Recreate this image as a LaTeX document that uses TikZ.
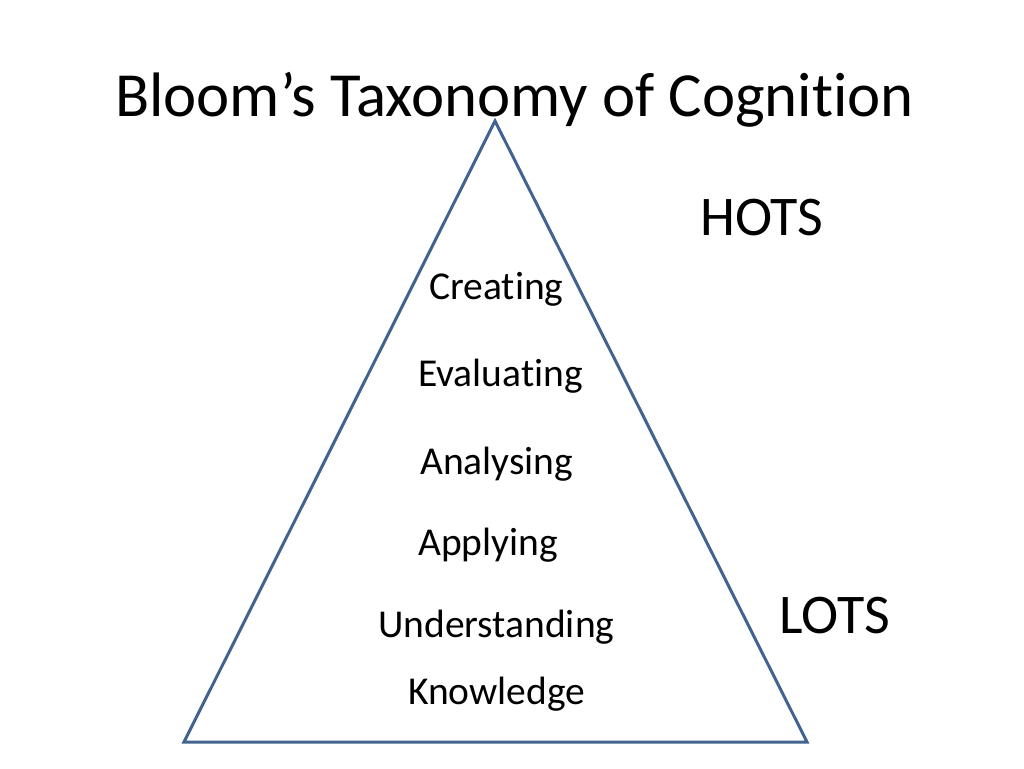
\documentclass[tikz,border=0pt]{standalone}
\usepackage{fontspec}
\setmainfont[RawFeature=-liga]{Carlito}
\definecolor{pyramidblue}{HTML}{41638F}
\begin{document}
\begin{tikzpicture}[
x=1pt,y=-1pt,
every node/.style={inner sep=0pt,anchor=base west},
level/.style={font=\fontsize{39.5}{48}\selectfont},
band/.style={font=\fontsize{56}{66}\selectfont},
]
\useasboundingbox (0,0) rectangle (1024,768);
\node[font=\fontsize{62.8}{75}\selectfont] (title) at (115,116) {Bloom’s Taxonomy of Cognition};
\coordinate (apex) at (495,121);
\coordinate (left) at (184,742);
\coordinate (right) at (807,742);
\draw[pyramidblue,line width=3pt,line join=miter] (apex) -- (right) -- (left) -- cycle;
\node[level] (creating) at (429,299) {Creating};
\node[level] (evaluating) at (418,386) {Evaluating};
\node[level] (analysing) at (420,474) {Analysing};
\node[level] (applying) at (418,555) {Applying};
\node[level] (understanding) at (378,637) {Understanding};
\node[level] (knowledge) at (408,704) {Knowledge};
\node[band] (hots) at (700,235) {HOTS};
\node[band] (lots) at (779,633) {LOTS};
\end{tikzpicture}
\end{document}
